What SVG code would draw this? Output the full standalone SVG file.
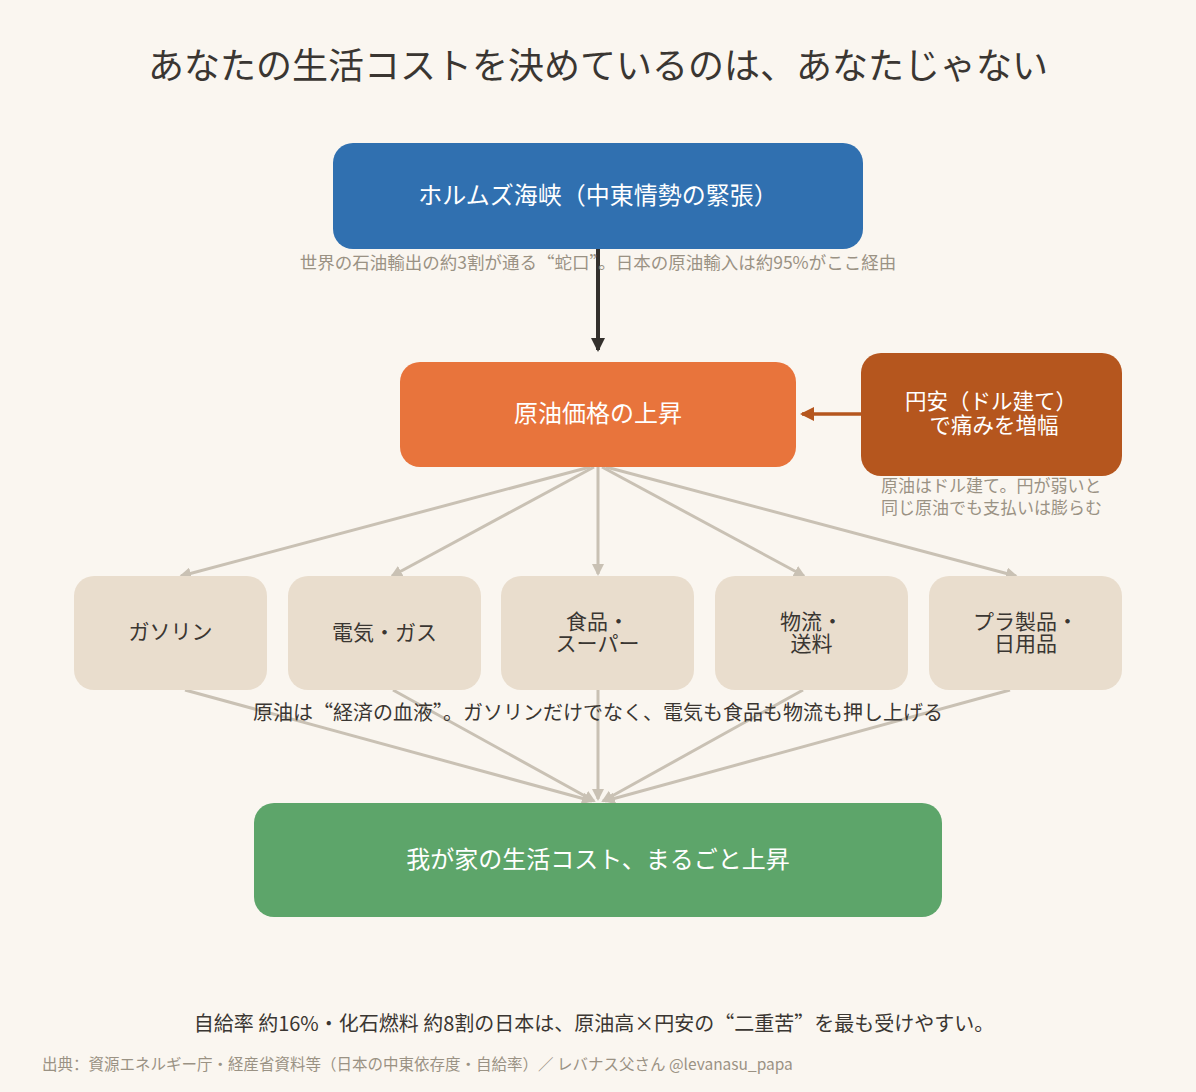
<svg xmlns="http://www.w3.org/2000/svg" width="1196" height="1092" viewBox="0 0 1196 1092">
<defs>
<style>
text{font-family:"Noto Sans CJK SC","Noto Sans CJK JP","Noto Sans",sans-serif;}
.title{font-size:36px;fill:#3a3632;text-anchor:middle;}
.main{font-size:24px;fill:#ffffff;text-anchor:middle;}
.sub{font-size:21px;fill:#3a3632;text-anchor:middle;}
.note{font-size:17.5px;fill:#9a9284;}
.mid{font-size:20px;fill:#3a3632;text-anchor:middle;}
.foot{font-size:15.5px;fill:#9a9284;}
.gl{stroke:#c9c1b4;stroke-width:3;fill:none;}
</style>
<marker id="ag" viewBox="0 0 12 12" refX="10" refY="6" markerWidth="12" markerHeight="12" markerUnits="userSpaceOnUse" orient="auto">
<path d="M0,0 L12,6 L0,12 z" fill="#c9c1b4"/>
</marker>
<marker id="ad" viewBox="0 0 14 14" refX="12" refY="7" markerWidth="14" markerHeight="14" markerUnits="userSpaceOnUse" orient="auto">
<path d="M0,0 L14,7 L0,14 z" fill="#33302c"/>
</marker>
<marker id="ao" viewBox="0 0 14 14" refX="12" refY="7" markerWidth="14" markerHeight="14" markerUnits="userSpaceOnUse" orient="auto">
<path d="M0,0 L14,7 L0,14 z" fill="#b5561e"/>
</marker>
</defs>
<rect x="0" y="0" width="1196" height="1092" fill="#faf6f0"/>
<text class="title" x="598" y="79">あなたの生活コストを決めているのは、あなたじゃない</text>

<g id="connectors">
<line x1="598" y1="249" x2="598" y2="350" stroke="#33302c" stroke-width="4" marker-end="url(#ad)"/>
<line x1="861" y1="414" x2="802" y2="414" stroke="#b5561e" stroke-width="3.5" marker-end="url(#ao)"/>
<line class="gl" x1="590" y1="467" x2="181" y2="576" marker-end="url(#ag)"/>
<line class="gl" x1="594" y1="467" x2="392" y2="576" marker-end="url(#ag)"/>
<line class="gl" x1="598" y1="467" x2="598" y2="574" marker-end="url(#ag)"/>
<line class="gl" x1="602" y1="467" x2="804" y2="576" marker-end="url(#ag)"/>
<line class="gl" x1="606" y1="467" x2="1016" y2="576" marker-end="url(#ag)"/>
<line class="gl" x1="185" y1="690" x2="592" y2="801" marker-end="url(#ag)"/>
<line class="gl" x1="393" y1="690" x2="594" y2="801" marker-end="url(#ag)"/>
<line class="gl" x1="598" y1="690" x2="598" y2="799" marker-end="url(#ag)"/>
<line class="gl" x1="803" y1="690" x2="603" y2="801" marker-end="url(#ag)"/>
<line class="gl" x1="1010" y1="690" x2="605" y2="801" marker-end="url(#ag)"/>
</g>

<g id="hormuz">
<rect x="333" y="143" width="530" height="106" rx="20" fill="#3070b0"/>
<text class="main" x="598" y="204">ホルムズ海峡（中東情勢の緊張）</text>
</g>
<text class="note" x="598" y="269" text-anchor="middle">世界の石油輸出の約3割が通る“蛇口”。日本の原油輸入は約95%がここ経由</text>

<g id="crude">
<rect x="400" y="362" width="396" height="105" rx="20" fill="#e8743c"/>
<text class="main" x="598" y="422">原油価格の上昇</text>
</g>

<g id="yen">
<rect x="861" y="353" width="261" height="123" rx="20" fill="#b5561e"/>
<text class="main" x="991" y="409" style="font-size:21.5px">円安（ドル建て）</text>
<text class="main" x="994" y="433" style="font-size:21.5px">で痛みを増幅</text>
</g>
<text class="note" x="881" y="492" style="font-size:17px">原油はドル建て。円が弱いと</text>
<text class="note" x="881" y="514" style="font-size:17px">同じ原油でも支払いは膨らむ</text>

<g id="gasoline">
<rect x="74" y="576" width="193" height="114" rx="20" fill="#e9ddcd"/>
<text class="sub" x="170.5" y="639">ガソリン</text>
</g>
<g id="electric">
<rect x="288" y="576" width="193" height="114" rx="20" fill="#e9ddcd"/>
<text class="sub" x="384.5" y="640">電気・ガス</text>
</g>
<g id="food">
<rect x="501" y="576" width="193" height="114" rx="20" fill="#e9ddcd"/>
<text class="sub" x="597.5" y="629">食品・</text>
<text class="sub" x="597.5" y="651">スーパー</text>
</g>
<g id="logistics">
<rect x="715" y="576" width="193" height="114" rx="20" fill="#e9ddcd"/>
<text class="sub" x="811.5" y="629">物流・</text>
<text class="sub" x="811.5" y="651">送料</text>
</g>
<g id="plastic">
<rect x="929" y="576" width="193" height="114" rx="20" fill="#e9ddcd"/>
<text class="sub" x="1025.5" y="629">プラ製品・</text>
<text class="sub" x="1025.5" y="651">日用品</text>
</g>

<text class="mid" x="598" y="720">原油は“経済の血液”。ガソリンだけでなく、電気も食品も物流も押し上げる</text>

<g id="household">
<rect x="254" y="803" width="688" height="114" rx="20" fill="#5da56a"/>
<text class="main" x="598" y="868">我が家の生活コスト、まるごと上昇</text>
</g>

<text class="mid" x="594" y="1031">自給率 約16%・化石燃料 約8割の日本は、原油高×円安の“二重苦”を最も受けやすい。</text>
<text class="foot" x="42" y="1070">出典：資源エネルギー庁・経産省資料等（日本の中東依存度・自給率）／ レバナス父さん @levanasu_papa</text>
</svg>
